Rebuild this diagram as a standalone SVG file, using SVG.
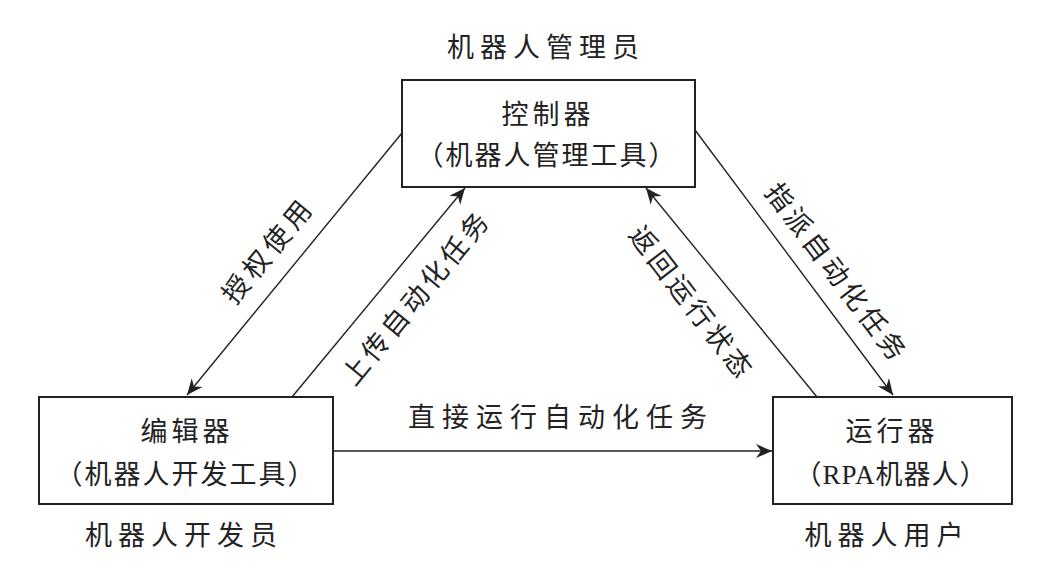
<svg xmlns="http://www.w3.org/2000/svg" width="1059" height="573" viewBox="0 0 1059 573">
<style>
.box{fill:#fff;stroke:#222;stroke-width:2}
.ln{fill:none;stroke:#222;stroke-width:1.4;marker-end:url(#ah)}
text{font-family:"Noto Sans CJK SC","Noto Sans CJK JP",sans-serif;font-size:27px;fill:#222;text-anchor:middle}
.lat{font-family:"Liberation Serif","Noto Sans CJK SC",serif}
</style>
<defs>
<marker id="ah" markerUnits="userSpaceOnUse" markerWidth="20" markerHeight="18" viewBox="-18 -9 20 18" refX="0" refY="0" orient="auto">
<path d="M-16,-7 L0,0 L-16,7 L-11,0 Z" fill="#222"/>
</marker>
</defs>
<rect width="1059" height="573" fill="#fff"/>
<g id="connectors">
<line class="ln" x1="402" y1="133" x2="187" y2="395"/>
<line class="ln" x1="292" y1="397" x2="465" y2="188"/>
<line class="ln" x1="817" y1="397" x2="646" y2="188"/>
<line class="ln" x1="695" y1="130" x2="893" y2="395"/>
<line class="ln" x1="333" y1="451" x2="772" y2="451"/>
<text transform="translate(268,250) rotate(-50.6)" dy="10" letter-spacing="5">授权使用</text>
<text transform="translate(416,297) rotate(-50.6)" dy="10" letter-spacing="4">上传自动化任务</text>
<text transform="translate(692,303) rotate(52.5)" dy="10" letter-spacing="4">返回运行状态</text>
<text transform="translate(837,273) rotate(53)" dy="10" letter-spacing="4">指派自动化任务</text>
<text x="561" y="427" letter-spacing="7">直接运行自动化任务</text>
</g>
<g id="controller">
<text x="546" y="57" letter-spacing="6">机器人管理员</text>
<rect class="box" x="402" y="80" width="293" height="107"/>
<text x="548" y="124" letter-spacing="4">控制器</text>
<text x="547" y="165" letter-spacing="2">（机器人管理工具）</text>
</g>
<g id="editor">
<rect class="box" x="39" y="397" width="294" height="107"/>
<text x="187" y="441" letter-spacing="4">编辑器</text>
<text x="186" y="484" letter-spacing="2">（机器人开发工具）</text>
<text x="184" y="545" letter-spacing="6">机器人开发员</text>
</g>
<g id="runner">
<rect class="box" x="773" y="397" width="239" height="107"/>
<text x="892" y="441" letter-spacing="4">运行器</text>
<text x="891" y="484" letter-spacing="1">（<tspan class="lat">RPA</tspan>机器人）</text>
<text x="887" y="545" letter-spacing="6">机器人用户</text>
</g>
</svg>
